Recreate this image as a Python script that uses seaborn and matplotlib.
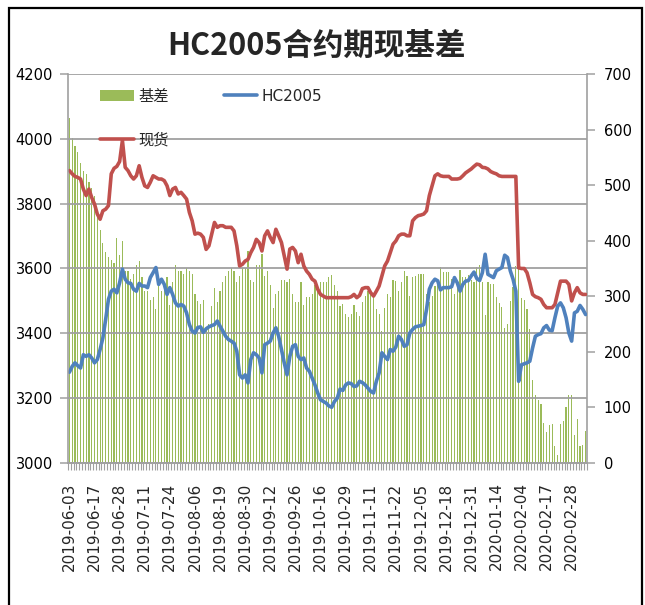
import matplotlib
matplotlib.use('Agg')
import matplotlib.pyplot as plt
from matplotlib.patches import Rectangle, Patch
from matplotlib.lines import Line2D
import numpy as np
import pandas as pd
import seaborn as sns

# trading days (exchange holidays removed)
holidays = ['2019-06-07', '2019-09-13', '2019-10-01', '2019-10-02', '2019-10-03',
            '2019-10-04', '2019-10-07', '2020-01-01', '2020-01-24', '2020-01-27',
            '2020-01-28', '2020-01-29', '2020-01-30', '2020-01-31']
days = pd.bdate_range('2019-06-03', '2020-03-06')
dates = days[~days.isin(pd.to_datetime(holidays))].strftime('%Y-%m-%d').tolist()

spot = [3902, 3892, 3884, 3881, 3876, 3845, 3825, 3845, 3819, 3799,
        3768, 3752, 3778, 3783, 3794, 3892, 3909, 3915, 3930, 3995,
        3912, 3902, 3886, 3876, 3886, 3917, 3881, 3855, 3850, 3866,
        3886, 3881, 3876, 3876, 3871, 3855, 3825, 3845, 3850, 3830,
        3835, 3825, 3814, 3773, 3747, 3706, 3709, 3706, 3696, 3659,
        3670, 3706, 3742, 3727, 3732, 3732, 3727, 3727, 3727, 3716,
        3670, 3608, 3613, 3623, 3628, 3649, 3665, 3690, 3680, 3654,
        3701, 3716, 3696, 3680, 3721, 3701, 3680, 3639, 3598, 3660,
        3665, 3654, 3618, 3644, 3608, 3592, 3582, 3567, 3561, 3536,
        3520, 3515, 3510, 3510, 3510, 3510, 3510, 3510, 3510, 3510,
        3510, 3513, 3520, 3510, 3517, 3538, 3541, 3541, 3525, 3515,
        3530, 3546, 3577, 3608, 3623, 3649, 3675, 3685, 3701, 3706,
        3706, 3701, 3701, 3747, 3757, 3763, 3765, 3768, 3778, 3825,
        3856, 3886, 3892, 3886, 3884, 3884, 3884, 3876, 3876, 3876,
        3878, 3886, 3895, 3901, 3907, 3915, 3922, 3920, 3912, 3911,
        3907, 3899, 3895, 3892, 3886, 3884, 3884, 3884, 3884, 3884,
        3884, 3602, 3600, 3600, 3587, 3556, 3520, 3513, 3510, 3505,
        3489, 3479, 3479, 3479, 3489, 3525, 3561, 3561, 3561, 3551,
        3500, 3525, 3541, 3525, 3520, 3520]

hc2005 = [3280, 3298, 3309, 3300, 3293, 3334, 3329, 3334, 3324, 3309,
          3319, 3350, 3386, 3443, 3505, 3530, 3536, 3525, 3556, 3598,
          3567, 3556, 3554, 3536, 3530, 3554, 3546, 3546, 3541, 3572,
          3587, 3603, 3551, 3567, 3551, 3520, 3541, 3520, 3494, 3484,
          3489, 3484, 3463, 3427, 3407, 3401, 3418, 3420, 3403, 3414,
          3420, 3424, 3427, 3438, 3422, 3407, 3391, 3381, 3376, 3370,
          3345, 3272, 3262, 3272, 3247, 3319, 3340, 3334, 3324, 3278,
          3365, 3370, 3376, 3401, 3417, 3391, 3350, 3309, 3272, 3329,
          3360, 3365, 3329, 3319, 3324, 3293, 3283, 3262, 3241, 3216,
          3195, 3190, 3185, 3176, 3172, 3190, 3200, 3228, 3224, 3241,
          3247, 3245, 3236, 3238, 3252, 3248, 3241, 3231, 3221, 3216,
          3252, 3278, 3340, 3329, 3319, 3350, 3345, 3358, 3391, 3381,
          3360, 3365, 3401, 3412, 3420, 3422, 3424, 3427, 3474, 3536,
          3556, 3567, 3562, 3534, 3541, 3541, 3541, 3544, 3572, 3556,
          3530, 3551, 3561, 3563, 3577, 3589, 3569, 3563, 3587, 3644,
          3582, 3577, 3572, 3593, 3598, 3603, 3641, 3634, 3593, 3567,
          3530, 3252, 3303, 3306, 3309, 3314, 3355, 3391, 3396, 3399,
          3417, 3424, 3410, 3408, 3448, 3484, 3494, 3479, 3448, 3401,
          3376, 3463, 3468, 3486, 3474, 3458]

basis = [620, 585, 570, 560, 540, 525, 520, 505, 495, 480,
         450, 420, 395, 380, 370, 365, 360, 405, 375, 400,
         345, 346, 332, 340, 356, 363, 335, 309, 309, 294,
         299, 278, 325, 309, 320, 335, 284, 325, 356, 346,
         346, 341, 351, 346, 340, 305, 291, 286, 293, 245,
         250, 282, 315, 289, 310, 325, 336, 346, 351, 346,
         325, 336, 351, 351, 381, 330, 325, 356, 356, 376,
         336, 346, 320, 279, 304, 310, 330, 330, 326, 331,
         305, 289, 289, 325, 284, 299, 299, 305, 320, 320,
         325, 325, 325, 334, 338, 320, 310, 282, 286, 269,
         263, 268, 284, 272, 265, 290, 300, 310, 304, 299,
         278, 268, 237, 279, 304, 299, 330, 327, 310, 325,
         346, 336, 300, 335, 337, 341, 341, 341, 304, 289,
         300, 319, 330, 352, 343, 343, 343, 332, 304, 320,
         348, 335, 334, 338, 330, 326, 353, 357, 325, 267,
         325, 322, 323, 299, 288, 281, 243, 250, 291, 317,
         354, 350, 297, 294, 278, 242, 150, 122, 114, 106,
         72, 55, 69, 71, 30, 15, 70, 75, 100, 122,
         122, 50, 80, 30, 33, 58]

df = pd.DataFrame({'date': dates, 'spot': spot, 'hc2005': hc2005, 'basis': basis})
df['pos'] = np.arange(len(df))
n = len(df)

green = '#9bbb59'
red = '#c0504d'
blue = '#4f81bd'
gray = '#a0a0a0'

sns.set_theme(style='white')
plt.rcParams['font.family'] = ['DejaVu Sans', 'Noto Sans CJK SC']

fig = plt.figure(figsize=(6.45, 6.05), dpi=100)
ax = fig.add_axes([68 / 645, 1 - 463 / 605, (587 - 68) / 645, (463 - 74) / 605])
ax2 = ax.twinx()

# basis bars on the right axis
sns.barplot(data=df, x='pos', y='basis', ax=ax2, native_scale=True, color=green,
            saturation=1, width=0.42, edgecolor='none', linewidth=0, legend=False)

# price lines on the left axis
sns.lineplot(data=df, x='pos', y='spot', ax=ax, color=red, lw=2.6, legend=False)
sns.lineplot(data=df, x='pos', y='hc2005', ax=ax, color=blue, lw=2.6, legend=False)

ax.set_zorder(ax2.get_zorder() + 1)
ax.patch.set_visible(False)

ax.set_ylim(3000, 4200)
ax.set_yticks(np.arange(3000, 4201, 200))
ax2.set_ylim(0, 700)
ax2.set_yticks(np.arange(0, 701, 100))
ax.set_xlim(-0.5, n - 0.5)

ax.set_xticks(np.arange(0, n, 9))
ax.set_xticklabels(dates[::9], rotation=90)
ax.set_xticks(np.arange(-0.5, n, 1), minor=True)

ax.grid(axis='y', color=gray, lw=1.3)
ax.set_axisbelow(True)

for a in (ax, ax2):
    a.set_xlabel('')
    a.set_ylabel('')
    a.spines['top'].set_visible(False)
    for s in a.spines.values():
        s.set_color(gray)
        s.set_linewidth(1.2)
ax.spines['right'].set_visible(False)
ax2.spines['left'].set_visible(False)

ax.tick_params(axis='y', which='major', left=True, length=6, width=1.1, color=gray,
               pad=5, labelsize=10.5, labelcolor='black')
ax2.tick_params(axis='y', which='major', right=True, length=6, width=1.1, color=gray,
                pad=6, labelsize=10.5, labelcolor='black')
ax.tick_params(axis='x', which='major', length=0, pad=14, labelsize=11)
ax.tick_params(axis='x', which='minor', bottom=True, length=5, width=0.8, color=gray)

handles = [Patch(facecolor=green, edgecolor='none'),
           Line2D([], [], color=red, lw=2.6),
           Line2D([], [], color=blue, lw=2.6)]
ax.legend(handles, ['基差', '现货', 'HC2005'], ncol=2, loc='upper left',
          bbox_to_anchor=(0.035, 0.998), frameon=False, fontsize=11,
          handlelength=2.2, labelspacing=1.9, columnspacing=3.6, handletextpad=0.3)

fig.text(0.49, 0.924, 'HC2005合约期现基差', ha='center', va='center', fontsize=22,
         fontweight='bold', family=['Noto Sans CJK SC'])

# outer frame
fig.patches.append(Rectangle((9 / 645, -0.05), (642 - 9) / 645, 1.05 - 8 / 605,
                             transform=fig.transFigure, fill=False,
                             edgecolor='black', lw=1.6))

fig.savefig('out.png', dpi=100)
